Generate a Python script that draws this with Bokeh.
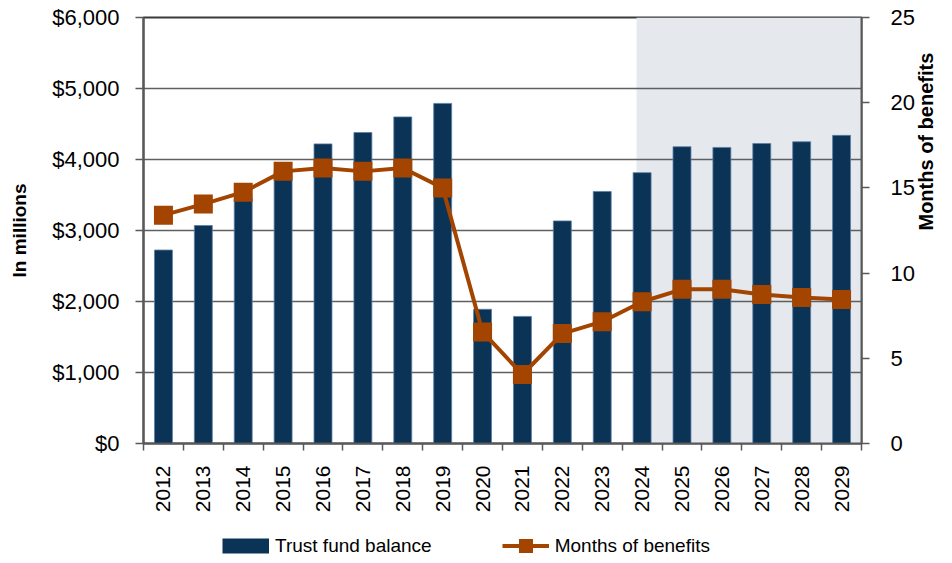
import math
from bokeh.plotting import figure
from bokeh.layouts import column
from bokeh.models import (Range1d, LinearAxis, FixedTicker, NumeralTickFormatter,
                          BoxAnnotation, Legend, LegendItem, ColumnDataSource)
from bokeh.embed import file_html
from bokeh.resources import INLINE

years = ["2012", "2013", "2014", "2015", "2016", "2017", "2018", "2019", "2020",
         "2021", "2022", "2023", "2024", "2025", "2026", "2027", "2028", "2029"]
balance = [2725, 3070, 3450, 3850, 4220, 4380, 4600, 4790, 1890, 1790, 3135,
           3550, 3815, 4180, 4170, 4225, 4250, 4340]
months = [13.4, 14.05, 14.75, 15.97, 16.17, 15.97, 16.17, 15.0, 6.55, 4.05,
          6.45, 7.15, 8.32, 9.05, 9.05, 8.75, 8.57, 8.45]
projection_start = "2024"
series_names = ["Trust fund balance", "Months of benefits"]

FONT = "Liberation Sans, Arial, sans-serif"
NAVY = "#0B3356"
ORANGE = "#A34500"
AXIS = "#595959"

xs = list(range(len(years)))
src = ColumnDataSource(dict(x=xs, bal=balance, mon=months))

p = figure(width=952, height=520, output_backend="svg", toolbar_location=None,
           x_range=Range1d(-0.5, len(years) - 0.5), y_range=Range1d(0, 6000),
           min_border_left=143, min_border_right=91, min_border_top=17,
           min_border_bottom=77)
p.extra_y_ranges = {"months": Range1d(0, 25)}

p.outline_line_color = "#3a3a3a"
p.outline_line_width = 2
p.background_fill_color = "white"

# projection shading
p0 = years.index(projection_start)
shade = BoxAnnotation(left=p0 - 0.14, fill_color="#E5E9ED", fill_alpha=1.0,
                      line_color=None, level="image")
p.add_layout(shade)

bar_style = dict(fill_color=NAVY, line_color="#5B7FA6", line_width=0.8)
line_style = dict(line_color=ORANGE, line_width=4)
mk_style = dict(marker="square", fill_color=ORANGE, line_color=None)

p.vbar(x="x", top="bal", width=0.45, source=src, **bar_style)
p.line(x="x", y="mon", source=src, y_range_name="months", **line_style)
p.scatter(x="x", y="mon", source=src, size=19, y_range_name="months", **mk_style)

# grids
p.xgrid.visible = False
p.ygrid.grid_line_color = "#5f5f5f"
p.ygrid.grid_line_width = 1.5
p.ygrid.ticker = FixedTicker(ticks=[1000, 2000, 3000, 4000, 5000])


def style_axis(ax, label_size):
    ax.major_label_text_font = FONT
    ax.major_label_text_font_size = label_size
    ax.major_label_text_color = "black"
    ax.axis_label_text_font = FONT
    ax.axis_label_text_font_style = "bold"
    ax.axis_label_text_color = "black"
    ax.axis_line_color = AXIS
    ax.axis_line_width = 2
    ax.major_tick_line_color = AXIS
    ax.major_tick_line_width = 1.5
    ax.major_tick_out = 8
    ax.major_tick_in = 0


# left axis
ya = p.yaxis[0]
style_axis(ya, "22px")
ya.ticker = FixedTicker(ticks=[0, 1000, 2000, 3000, 4000, 5000, 6000])
ya.formatter = NumeralTickFormatter(format="$0,0")
ya.axis_label = "In millions"
ya.axis_label_text_font_size = "19px"
ya.axis_label_standoff = 19
ya.major_label_standoff = 16
ya.minor_tick_line_color = None

# right axis
ra = LinearAxis(y_range_name="months",
                ticker=FixedTicker(ticks=[0, 5, 10, 15, 20, 25]))
style_axis(ra, "22px")
ra.axis_label = "Months of benefits"
ra.axis_label_orientation = math.pi / 2
ra.axis_label_text_font_size = "20px"
ra.axis_label_standoff = 8
ra.major_label_standoff = 21
ra.minor_tick_line_color = None
p.add_layout(ra, "right")

# bottom axis
xa = p.xaxis[0]
style_axis(xa, "21px")
xa.ticker = FixedTicker(ticks=xs, minor_ticks=[i - 0.5 for i in range(len(years) + 1)])
xa.major_label_overrides = {i: y for i, y in enumerate(years)}
xa.major_label_orientation = math.pi / 2
xa.major_label_standoff = 14
xa.major_tick_line_color = None
xa.minor_tick_out = 7
xa.minor_tick_in = 0
xa.minor_tick_line_color = AXIS
xa.minor_tick_line_width = 1.5

# legend strip (proxy renderers hidden; legend still draws their glyphs)
lg = figure(width=952, height=43, output_backend="svg", toolbar_location=None,
            x_range=Range1d(0, 1), y_range=Range1d(0, 1),
            min_border=0, outline_line_color=None)
lg.axis.visible = False
lg.grid.visible = False
lb = lg.line(x="x", y="bal", source=src, visible=False, line_color=NAVY,
             line_width=15)
ll = lg.line(x="x", y="mon", source=src, visible=False, **line_style)
lm = lg.scatter(x="x", y="mon", source=src, size=14, visible=False, **mk_style)
legend = Legend(items=[LegendItem(label=series_names[0], renderers=[lb], index=0),
                       LegendItem(label=series_names[1], renderers=[ll, lm], index=0)],
                location=(79, 0), orientation="horizontal",
                label_text_font=FONT, label_text_font_size="19px",
                label_text_color="black", glyph_width=47, glyph_height=35,
                label_height=20, label_standoff=6, spacing=70, padding=0,
                margin=0, border_line_color=None, background_fill_alpha=0,
                inactive_fill_alpha=0)
lg.add_layout(legend, "center")

layout = column(p, lg, spacing=0)
open("out.html", "w").write(file_html(layout, INLINE))
